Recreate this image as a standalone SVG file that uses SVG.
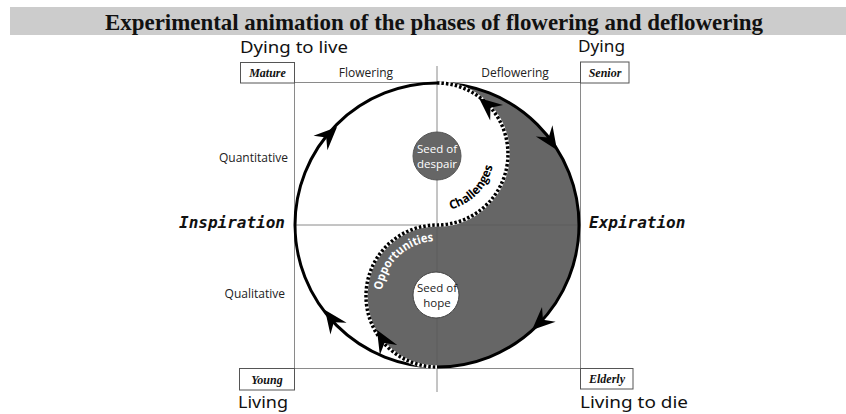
<svg xmlns="http://www.w3.org/2000/svg" width="846" height="414" viewBox="0 0 846 414">
<style>
.grid{stroke:#8a8a8a;stroke-width:1;fill:none}
.griddark{stroke:#4a4a4a;stroke-width:1;fill:none}
.box{fill:#fff;stroke:#555;stroke-width:1}
.boxt{font-family:"Liberation Serif",serif;font-weight:bold;font-style:italic;font-size:12px;fill:#111;text-anchor:middle}
.hand{font-family:"Noto Sans","DejaVu Sans",sans-serif;font-size:16px;fill:#111}
.lab{font-family:"Open Sans","Noto Sans",sans-serif;font-size:12px;fill:#222}
.mono{font-family:"DejaVu Sans Mono",monospace;font-weight:bold;font-style:italic;font-size:16px;fill:#111}
.seed{font-family:"Open Sans","Noto Sans",sans-serif;font-size:11.5px;text-anchor:middle}
.curv{font-family:"Open Sans","Noto Sans",sans-serif;font-weight:bold;font-size:12px}
.arrow{fill:#000}
</style>
<defs>
<path id="ah" d="M0,0 L-23,-10 L-15,0 L-23,10 Z"/>
<clipPath id="yinclip"><path d="M437,83 A142,142 0 0 1 437,367 A71,71 0 0 1 437,225 A71,71 0 0 0 437,83 Z"/></clipPath>
<path id="chalPath" d="M446.9,210.1 A57,57 0 0 0 493.1,144.1"/>
<path id="oppPath" d="M382.1,292.2 A55,55 0 0 1 441.8,241.2"/>
</defs>
<rect width="846" height="414" fill="#fff"/>
<g id="title">
<rect x="10" y="7" width="836" height="28" fill="#cccccc"/>
<text x="434" y="30" font-family="Liberation Serif,serif" font-weight="bold" font-size="23" text-anchor="middle" textLength="658" lengthAdjust="spacingAndGlyphs" fill="#111">Experimental animation of the phases of flowering and deflowering</text>
</g>
<g id="yin">
<path d="M437,83 A142,142 0 0 1 437,367 A71,71 0 0 1 437,225 A71,71 0 0 0 437,83 Z" fill="#666"/>
</g>
<g id="grid">
<line class="grid" x1="294.5" y1="82.5" x2="580.5" y2="82.5"/>
<line class="grid" x1="296" y1="225" x2="579" y2="225"/>
<line class="grid" x1="294.5" y1="368.5" x2="580.5" y2="368.5"/>
<line class="grid" x1="294.5" y1="82" x2="294.5" y2="369"/>
<line class="grid" x1="580.5" y1="82" x2="580.5" y2="369"/>
<line class="grid" x1="437" y1="66" x2="437" y2="392"/>
<g clip-path="url(#yinclip)">
<line class="griddark" x1="296" y1="225" x2="579" y2="225"/>
<line class="griddark" x1="437" y1="66" x2="437" y2="392"/>
</g>
</g>
<g id="connectors">
<circle cx="437" cy="225" r="142" fill="none" stroke="#000" stroke-width="3"/>
<path d="M437,83 A71,71 0 0 1 437,225 A71,71 0 0 0 437,367" fill="none" stroke="#fff" stroke-width="3.5"/>
<path d="M437,83 A71,71 0 0 1 437,225 A71,71 0 0 0 437,367" fill="none" stroke="#000" stroke-width="3.5" stroke-dasharray="2.5 2"/>
<use href="#ah" class="arrow" transform="translate(337,127) rotate(-44)"/>
<use href="#ah" class="arrow" transform="translate(557,150) rotate(56)"/>
<use href="#ah" class="arrow" transform="translate(532,330) rotate(137)"/>
<use href="#ah" class="arrow" transform="translate(325,310) rotate(-126)"/>
<use href="#ah" class="arrow" transform="translate(479,98) rotate(-140)"/>
<use href="#ah" class="arrow" transform="translate(377,330) rotate(-120)"/>
<text class="curv" fill="#000"><textPath href="#chalPath" startOffset="4" textLength="63" lengthAdjust="spacingAndGlyphs">Challenges</textPath></text>
<text class="curv" fill="#fff"><textPath href="#oppPath" startOffset="2" textLength="77" lengthAdjust="spacingAndGlyphs">Opportunities</textPath></text>
</g>
<g id="seed-despair">
<circle cx="437" cy="156" r="24" fill="#666" stroke="#555" stroke-width="1"/>
<text class="seed" x="437" y="153" fill="#fff">Seed of</text>
<text class="seed" x="437" y="168" fill="#fff">despair</text>
</g>
<g id="seed-hope">
<circle cx="436" cy="295" r="23" fill="#fff" stroke="#444" stroke-width="1"/>
<text class="seed" x="437" y="292" fill="#222">Seed of</text>
<text class="seed" x="437" y="307" fill="#222">hope</text>
</g>
<g id="mature">
<rect class="box" x="240.5" y="62.5" width="54" height="20.5"/>
<text class="boxt" x="267.5" y="77">Mature</text>
<text class="hand" x="240" y="53" textLength="108" lengthAdjust="spacingAndGlyphs">Dying to live</text>
</g>
<g id="senior">
<rect class="box" x="580.5" y="62" width="48.5" height="21"/>
<text class="boxt" x="605" y="77">Senior</text>
<text class="hand" x="578" y="52" textLength="47" lengthAdjust="spacingAndGlyphs">Dying</text>
</g>
<g id="young">
<rect class="box" x="239.5" y="368.5" width="55" height="21.5"/>
<text class="boxt" x="267" y="384">Young</text>
<text class="hand" x="238" y="408" textLength="50" lengthAdjust="spacingAndGlyphs">Living</text>
</g>
<g id="elderly">
<rect class="box" x="580.5" y="368.5" width="52.5" height="20.5"/>
<text class="boxt" x="607" y="383">Elderly</text>
<text class="hand" x="580" y="408" textLength="108" lengthAdjust="spacingAndGlyphs">Living to die</text>
</g>
<g id="labels">
<text class="lab" x="366" y="77" text-anchor="middle">Flowering</text>
<text class="lab" x="515" y="77" text-anchor="middle">Deflowering</text>
<text class="lab" x="288" y="162" text-anchor="end">Quantitative</text>
<text class="lab" x="285" y="298" text-anchor="end">Qualitative</text>
<text class="mono" x="179" y="228">Inspiration</text>
<text class="mono" x="589" y="228">Expiration</text>
</g>
</svg>
